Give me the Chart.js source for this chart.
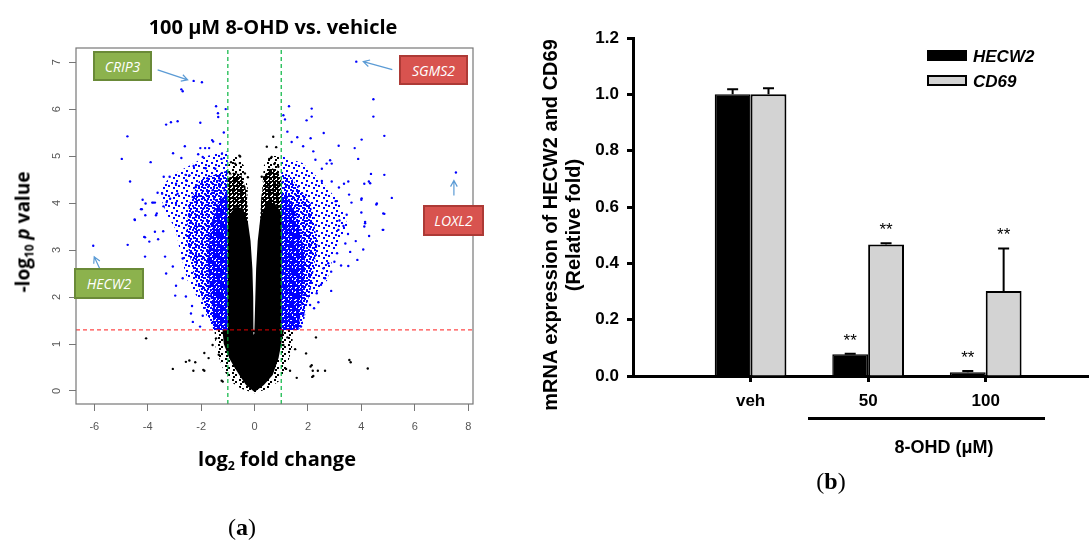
<!DOCTYPE html>
<html>
<head>
<meta charset="utf-8">
<script src="https://cdn.jsdelivr.net/npm/chart.js@4.4.1/dist/chart.umd.min.js"></script>
<style>
  html, body { margin: 0; padding: 0; background: #fff; }
  #page { position: relative; width: 1092px; height: 540px; overflow: hidden; font-family: "Liberation Sans", Arial, sans-serif; }
  canvas { position: absolute; top: 0; }
  .lbl { position: absolute; white-space: nowrap; line-height: 1; transform: translate(-50%, -50%); }
  .rot { transform: translate(-50%, -50%) rotate(-90deg); }
  .volc { font-family: "Open Sans", sans-serif; font-weight: 700; font-size: 19px; color: #000; }
  .sub { font-size: 0.62em; position: relative; top: 0.3em; }
  .panel { font-family: "Liberation Serif", serif; font-size: 24px; }
  .gene { position: absolute; box-sizing: border-box; border: 2px solid; color: #fff; font-family: "Open Sans", sans-serif;
          font-style: italic; font-size: 14px; display: flex; align-items: center; justify-content: center; }
  .green { background: #8cb24d; border-color: #6a8a38; }
  .red { background: #d8534f; border-color: #ad3a36; }
  .bold { font-weight: 700; color: #000; }
  .key { position: absolute; box-sizing: border-box; width: 40px; height: 11px; border: 2px solid #000; }
</style>
</head>
<body>
<div id="page">
  <canvas id="volcano" width="520" height="540" style="left:0"></canvas>
  <canvas id="bars" width="572" height="540" style="left:520px"></canvas>

  <div class="lbl volc" style="left:273px;top:27px;font-size:20px">100 μM 8-OHD vs. vehicle</div>
  <div class="lbl volc rot" style="left:23px;top:232px">-log<span class="sub">10</span> <i>p</i> value</div>
  <div class="lbl volc" style="left:277px;top:459px;font-size:20px">log<span class="sub">2</span> fold change</div>
  <div class="lbl panel" style="left:242px;top:527px">(<b>a</b>)</div>

  <div class="gene green" style="left:93px;top:51px;width:59px;height:30px">CRIP3</div>
  <div class="gene red" style="left:399px;top:55px;width:69px;height:30px">SGMS2</div>
  <div class="gene red" style="left:423px;top:205px;width:61px;height:31px">LOXL2</div>
  <div class="gene green" style="left:74px;top:268px;width:70px;height:31px">HECW2</div>

  <div class="lbl bold rot" style="left:550px;top:225px;font-size:20px">mRNA expression of HECW2 and CD69</div>
  <div class="lbl bold rot" style="left:573px;top:225px;font-size:20px">(Relative fold)</div>
  <div style="position:absolute;left:808px;top:417px;width:237px;height:3px;background:#000"></div>
  <div class="lbl bold" style="left:944px;top:447px;font-size:18px">8-OHD (μM)</div>
  <div class="lbl panel" style="left:831px;top:481px">(<b>b</b>)</div>

  <div class="key" style="left:927px;top:50px;background:#000"></div>
  <div class="lbl bold" style="left:973px;top:56px;transform:translate(0,-50%);font-size:17px;font-style:italic">HECW2</div>
  <div class="key" style="left:927px;top:75px;background:#d3d3d3"></div>
  <div class="lbl bold" style="left:973px;top:81px;transform:translate(0,-50%);font-size:17px;font-style:italic">CD69</div>
</div>

<script>
// ---------- (a) volcano plot ----------
const volcanoXTicks = [-6, -4, -2, 0, 2, 4, 6, 8];
const volcanoYTicks = [0, 1, 2, 3, 4, 5, 6, 7];
const foldCutoffs = [-1, 1];
const pCutoff = 1.3;

const downGenes = [
  [-2.28, 6.60], [-1.97, 6.57], [-2.74, 6.42], [-2.69, 6.38], [-1.44, 6.06], [-1.08, 6.00], [-1.37, 5.91], [-1.36, 5.83],
  [-2.88, 5.74], [-3.13, 5.72], [-3.31, 5.67], [-2.03, 5.71], [-4.76, 5.42], [-1.15, 5.50], [-1.59, 5.34], [-1.55, 5.31],
  [-2.61, 5.21], [-2.03, 5.17], [-1.85, 5.17], [-1.70, 5.17], [-1.29, 5.26], [-4.97, 4.94], [-3.05, 5.06], [-2.74, 4.96],
  [-3.89, 4.87], [-2.11, 5.04], [-1.94, 4.98], [-1.22, 5.05], [-1.24, 4.94], [-2.28, 4.79], [-1.83, 4.74], [-1.47, 4.73],
  [-4.66, 4.46], [-3.40, 4.56], [-3.18, 4.56], [-2.94, 4.41], [-2.58, 4.60], [-3.63, 4.22], [-4.19, 4.07], [-3.83, 4.01],
  [-3.73, 4.01], [-4.25, 3.87], [-4.49, 3.65], [-4.09, 3.74], [-3.69, 3.74], [-3.41, 3.93], [-3.16, 4.09], [-2.88, 4.20],
  [-3.46, 4.20], [-2.56, 4.48], [-2.44, 4.59], [-2.20, 4.34], [-1.75, 4.52], [-1.57, 4.27], [-1.32, 4.48], [-1.13, 4.27],
  [-1.44, 4.06], [-1.94, 4.00], [-2.31, 4.13], [-2.94, 4.00], [-3.29, 4.02],
  [-6.04, 3.09], [-4.75, 3.11], [-4.10, 3.27], [-3.94, 3.18], [-4.10, 2.86], [-3.73, 3.39], [-3.42, 3.40], [-3.61, 3.23],
  [-3.35, 2.86], [-3.31, 2.50], [-3.06, 2.65], [-2.94, 2.24], [-2.97, 2.03], [-2.69, 2.40], [-2.57, 2.01], [-2.34, 1.81],
  [-2.31, 1.47], [-2.38, 1.65], [-1.94, 1.60], [-2.04, 1.37], [-2.69, 2.82],
  [-4.48, 3.64], [-4.22, 3.87], [-4.08, 3.99], [-3.79, 4.01], [-3.66, 3.78], [-4.13, 3.28]
];
const upGenes = [
  [3.81, 7.01], [4.45, 6.21], [4.45, 5.84], [1.29, 6.06], [2.14, 6.01], [2.14, 5.84], [1.95, 5.76], [1.14, 5.78],
  [1.08, 5.87], [2.59, 5.49], [1.60, 5.40], [2.10, 5.38], [4.01, 5.35], [4.86, 5.43], [3.15, 5.22], [3.75, 5.17],
  [3.88, 4.94], [1.23, 5.52], [1.39, 5.30], [1.82, 5.21], [2.20, 5.10], [2.70, 4.84], [2.89, 4.84], [2.52, 4.73],
  [4.36, 4.62], [4.86, 4.60], [7.54, 4.65], [2.89, 4.46], [3.51, 4.46], [3.35, 4.41], [4.11, 4.41], [4.28, 4.46],
  [3.16, 4.33], [3.54, 4.18], [3.04, 4.04], [3.63, 4.01], [4.00, 4.07], [4.56, 3.97], [5.14, 4.11], [4.00, 3.80],
  [3.45, 3.75], [4.86, 3.77], [3.18, 3.63], [4.14, 3.60], [2.83, 4.91], [2.28, 4.92], [2.52, 4.47],
  [4.80, 3.43], [4.11, 3.50], [4.29, 3.30], [4.07, 3.01], [3.85, 2.79], [3.79, 3.19], [3.58, 2.96], [3.51, 2.66],
  [3.24, 2.67], [3.40, 3.14], [3.50, 3.34], [3.33, 3.51], [3.14, 3.43], [3.09, 2.93], [2.99, 2.75], [2.87, 2.13],
  [2.87, 2.54], [2.64, 2.40], [2.39, 1.89], [2.33, 2.08], [2.23, 1.76], [2.08, 1.83], [1.74, 1.37], [1.64, 1.51],
  [1.55, 1.37], [1.83, 1.62], [2.49, 2.26], [2.76, 2.72], [2.58, 2.61],
  [4.82, 3.78], [4.82, 3.43], [4.58, 3.99], [4.33, 4.42], [4.01, 4.10], [4.14, 3.57]
];
const flatGenes = [
  [-0.57, 5.01], [-0.88, 4.87], [-0.55, 4.85], [-0.25, 4.55], [-0.69, 4.48], [-0.38, 4.34], [-0.80, 4.27], [0.55, 4.94],
  [0.36, 4.55], [0.74, 4.83], [0.49, 4.34], [0.70, 5.41], [0.81, 5.19], [0.64, 4.98], [0.89, 4.77], [0.73, 4.55],
  [0.93, 4.41], [0.68, 4.27], [0.83, 4.09], [0.96, 3.92], [-0.54, 4.99], [-0.73, 4.84], [-0.36, 4.63], [-0.92, 4.63],
  [0.27, 4.56], [0.46, 4.56], [0.46, 5.20],
  [-4.06, 1.12], [-3.06, 0.47], [-2.57, 0.62], [-2.44, 0.65], [-2.29, 0.43], [-2.22, 0.61], [-1.88, 0.81], [-1.88, 0.43],
  [-1.72, 0.70], [-1.44, 1.12], [-1.19, 0.20], [-1.57, 0.98], [-1.34, 0.77], [-1.92, 0.45], [-1.23, 0.22],
  [2.30, 1.14], [1.52, 0.89], [1.93, 0.80], [3.55, 0.66], [3.60, 0.61], [4.24, 0.48], [2.10, 0.52], [2.18, 0.43],
  [2.37, 0.43], [2.64, 0.43], [2.16, 0.30], [1.58, 0.28], [1.33, 0.43], [1.18, 0.47], [1.23, 1.14], [1.08, 0.98],
  [2.14, 0.55], [2.20, 0.32]
];

// outlines of the crowded regions (too dense to read point by point)
const downOuter = [[-1.0, 1.3], [-1.55, 1.3], [-2.02, 1.87], [-2.52, 2.36], [-2.78, 2.93], [-2.95, 3.43], [-3.3, 3.78],
  [-3.6, 4.25], [-3.1, 4.6], [-2.5, 4.78], [-1.8, 5.0], [-1.0, 5.1]];
const downCore = [[-1.0, 1.3], [-1.52, 1.3], [-1.82, 1.72], [-2.32, 2.57], [-2.56, 3.28], [-2.45, 3.99], [-2.06, 4.49], [-1.0, 4.7]];
const downBand = [[-1.0, 1.3], [-1.5, 1.3], [-1.65, 2.0], [-1.75, 2.8], [-1.65, 3.5], [-1.35, 4.05], [-1.0, 4.2]];
const upOuter = [[1.0, 1.3], [1.79, 1.3], [1.98, 1.87], [2.73, 2.36], [2.97, 2.93], [3.5, 3.5], [3.22, 3.99],
  [2.47, 4.49], [1.8, 4.85], [1.0, 5.0]];
const upCore = [[1.0, 1.3], [1.72, 1.33], [2.1, 2.15], [2.36, 3.14], [2.1, 3.99], [1.35, 4.56], [1.0, 4.63]];
const upBand = [[1.0, 1.3], [1.65, 1.3], [1.8, 2.0], [1.88, 2.8], [1.7, 3.5], [1.35, 4.05], [1.0, 4.2]];
const flatCore = [[-1.0, 1.3], [-1.0, 3.7], [-0.75, 3.9], [-0.45, 3.9], [-0.25, 3.6], [-0.15, 3.2], [-0.08, 2.6], [-0.05, 2.0],
  [-0.04, 1.2], [-0.01, 1.2], [0.03, 2.0], [0.06, 2.6], [0.12, 3.2], [0.22, 3.7], [0.45, 4.0], [0.75, 4.0], [1.0, 3.8],
  [1.0, 1.3], [1.1, 1.3], [1.0, 1.0], [0.9, 0.7], [0.68, 0.34], [0.35, 0.13], [0.0, -0.02], [-0.32, 0.13], [-0.57, 0.34],
  [-0.75, 0.5], [-0.95, 0.7], [-1.15, 1.0], [-1.2, 1.3]];
const flatDenseLeft = [[-1.0, 3.5], [-1.0, 4.5], [-0.8, 4.65], [-0.5, 4.6], [-0.33, 4.3], [-0.25, 3.9], [-0.25, 3.5]];
const flatDenseRight = [[0.2, 3.5], [0.25, 4.1], [0.38, 4.6], [0.6, 4.75], [0.85, 4.7], [1.0, 4.5], [1.0, 3.5]];
const flatFringeLeft = [[-1.0, 3.9], [-1.0, 4.8], [-0.7, 5.0], [-0.4, 4.8], [-0.25, 4.3], [-0.3, 3.9]];
const flatFringeRight = [[0.25, 4.0], [0.35, 4.8], [0.6, 5.0], [1.0, 5.0], [1.0, 4.0]];
const flatFringeBase = [[-1.0, 1.3], [-1.5, 1.3], [-1.45, 0.9], [-1.2, 0.5], [-0.9, 0.2], [-0.5, 0.05], [0.0, -0.05],
  [0.5, 0.05], [0.9, 0.2], [1.2, 0.5], [1.4, 0.9], [1.45, 1.3]];

const calloutNames = ['CRIP3', 'SGMS2', 'LOXL2', 'HECW2'];
const calloutX = [-2.28, 3.81, 7.54, -6.04];
const calloutY = [6.60, 7.01, 4.65, 3.09];

// ---------- (b) qPCR bars ----------
const doseLabels = ['veh', '50', '100'];
const hecw2Mean = [1.00, 0.077, 0.013];
const hecw2Sem = [0.018, 0.002, 0.005];
const cd69Mean = [1.00, 0.467, 0.302];
const cd69Sem = [0.022, 0.004, 0.151];
const hecw2Stars = ['', '**', '**'];
const cd69Stars = ['', '**', '**'];
const barYTicks = [0, 0.2, 0.4, 0.6, 0.8, 1.0, 1.2];

// arrow offsets (px) from each callout gene: tail, tip
const calloutArrows = [
  { tail: [-36, -11], tip: [-6, -1] },
  { tail: [36, 8], tip: [7, 0] },
  { tail: [-2, 23], tip: [-2, 8] },
  { tail: [7, 24], tip: [1, 11] }
];

const toPts = arr => arr.map(([x, y]) => ({ x, y }));

function dotPattern(color, size, dots) {
  const c = document.createElement('canvas');
  c.width = c.height = size;
  const g = c.getContext('2d');
  g.fillStyle = color;
  dots.forEach(([x, y]) => g.fillRect(x, y, 2, 2));
  return g.createPattern(c, 'repeat');
}

function region(points, fillStyle, order) {
  return {
    type: 'line', data: toPts(points), showLine: true, fill: 'shape', backgroundColor: fillStyle,
    borderColor: 'transparent', borderWidth: 0, pointRadius: 0, tension: 0, order
  };
}

const blueSparse = dotPattern('#0000ff', 10, [[1, 2], [6, 0], [8, 5], [3, 7], [5, 4]]);
const blueMid = dotPattern('#0000ff', 6, [[0, 1], [3, 0], [2, 3], [4, 4]]);
const blueDense = dotPattern('#0000ff', 4, [[0, 0], [2, 1], [1, 2]]);
const blackDense = dotPattern('#000000', 4, [[0, 0], [2, 1], [1, 2]]);
const blackSparse = dotPattern('#000000', 7, [[1, 1], [4, 3], [2, 5]]);

const xMin = -6.685, xMax = 8.18, yMin = -0.277, yMax = 7.30;

const volcanoDecor = {
  id: 'volcanoDecor',
  afterDraw(chart) {
    const { ctx, chartArea: a, scales: { x, y } } = chart;
    ctx.save();
    ctx.strokeStyle = '#777';
    ctx.lineWidth = 1.2;
    ctx.strokeRect(a.left, a.top, a.right - a.left, a.bottom - a.top);

    // R draws the y labels parallel to the axis
    ctx.fillStyle = '#555';
    ctx.font = '11px "Liberation Sans", Arial, sans-serif';
    ctx.textAlign = 'center';
    ctx.textBaseline = 'middle';
    volcanoYTicks.forEach(v => {
      ctx.save();
      ctx.translate(a.left - 19, y.getPixelForValue(v));
      ctx.rotate(-Math.PI / 2);
      ctx.fillText(String(v), 0, 0);
      ctx.restore();
    });

    // callout arrows
    ctx.strokeStyle = '#5b9bd5';
    ctx.lineWidth = 1.2;
    calloutNames.forEach((name, i) => {
      const px = x.getPixelForValue(calloutX[i]);
      const py = y.getPixelForValue(calloutY[i]);
      const t0 = [px + calloutArrows[i].tail[0], py + calloutArrows[i].tail[1]];
      const t1 = [px + calloutArrows[i].tip[0], py + calloutArrows[i].tip[1]];
      const ang = Math.atan2(t1[1] - t0[1], t1[0] - t0[0]);
      ctx.beginPath();
      ctx.moveTo(t0[0], t0[1]);
      ctx.lineTo(t1[0], t1[1]);
      ctx.moveTo(t1[0] - 7 * Math.cos(ang - 0.5), t1[1] - 7 * Math.sin(ang - 0.5));
      ctx.lineTo(t1[0], t1[1]);
      ctx.lineTo(t1[0] - 7 * Math.cos(ang + 0.5), t1[1] - 7 * Math.sin(ang + 0.5));
      ctx.stroke();
    });
    ctx.restore();
  }
};

const cutLine = (pts, color) => ({
  type: 'line', data: pts, showLine: true, fill: false, borderColor: color, borderWidth: 1.3,
  borderDash: [4, 3], pointRadius: 0, order: 0
});

new Chart(document.getElementById('volcano'), {
  type: 'scatter',
  data: {
    datasets: [
      ...foldCutoffs.map(fc => cutLine([{ x: fc, y: yMin }, { x: fc, y: yMax }], 'rgba(0,180,60,0.9)')),
      cutLine([{ x: xMin, y: pCutoff }, { x: xMax, y: pCutoff }], 'rgba(255,0,0,0.72)'),
      { data: toPts(downGenes), backgroundColor: '#0000ff', pointRadius: 1.2, pointBorderWidth: 0, order: 1 },
      { data: toPts(upGenes), backgroundColor: '#0000ff', pointRadius: 1.2, pointBorderWidth: 0, order: 1 },
      { data: toPts(flatGenes), backgroundColor: '#000000', pointRadius: 1.2, pointBorderWidth: 0, order: 2 },
      region(flatCore, '#000000', 3),
      region(flatDenseLeft, blackDense, 4),
      region(flatDenseRight, blackDense, 4),
      region(flatFringeLeft, blackSparse, 4),
      region(flatFringeRight, blackSparse, 4),
      region(flatFringeBase, blackSparse, 4),
      region(downBand, blueDense, 5),
      region(upBand, blueDense, 5),
      region(downCore, blueMid, 6),
      region(upCore, blueMid, 6),
      region(downOuter, blueSparse, 7),
      region(upOuter, blueSparse, 7)
    ]
  },
  options: {
    responsive: false,
    animation: false,
    events: [],
    layout: { padding: { top: 48, right: 47, left: 0, bottom: 0 } },
    plugins: { legend: { display: false }, tooltip: { enabled: false } },
    scales: {
      x: {
        type: 'linear', min: xMin, max: xMax,
        afterBuildTicks: s => { s.ticks = volcanoXTicks.map(v => ({ value: v })); },
        afterFit: s => { s.height = 136; },
        grid: { drawOnChartArea: false, tickLength: 7, color: '#777' },
        border: { display: false },
        ticks: { color: '#555', font: { family: '"Liberation Sans", Arial, sans-serif', size: 11 }, padding: 9, maxRotation: 0, autoSkip: false }
      },
      y: {
        type: 'linear', min: yMin, max: yMax,
        afterBuildTicks: s => { s.ticks = volcanoYTicks.map(v => ({ value: v })); },
        afterFit: s => { s.width = 76; },
        grid: { drawOnChartArea: false, tickLength: 7, color: '#777' },
        border: { display: false },
        ticks: { display: false }
      }
    }
  },
  plugins: [volcanoDecor]
});

// error bars (upper only) and significance marks
const errorBars = {
  id: 'errorBars',
  afterDatasetsDraw(chart) {
    const { ctx, scales: { y } } = chart;
    const means = [hecw2Mean, cd69Mean];
    const sems = [hecw2Sem, cd69Sem];
    const stars = [hecw2Stars, cd69Stars];
    ctx.save();
    ctx.strokeStyle = '#000';
    ctx.fillStyle = '#000';
    ctx.lineWidth = 2;
    ctx.font = '17px "Liberation Sans", Arial, sans-serif';
    ctx.textAlign = 'center';
    ctx.textBaseline = 'alphabetic';
    chart.data.datasets.forEach((ds, d) => {
      chart.getDatasetMeta(d).data.forEach((bar, i) => {
        const top = y.getPixelForValue(means[d][i] + sems[d][i]);
        ctx.beginPath();
        ctx.moveTo(bar.x, bar.y);
        ctx.lineTo(bar.x, top);
        ctx.moveTo(bar.x - 5.5, top);
        ctx.lineTo(bar.x + 5.5, top);
        ctx.stroke();
        if (stars[d][i]) ctx.fillText(stars[d][i], bar.x, top - 8);
      });
    });
    ctx.restore();
  }
};

const axisFont = { family: '"Liberation Sans", Arial, sans-serif', size: 17, weight: 'bold' };

new Chart(document.getElementById('bars'), {
  type: 'bar',
  data: {
    datasets: [
      {
        label: 'HECW2', data: doseLabels.map((l, i) => ({ x: i + 1, y: hecw2Mean[i] })),
        backgroundColor: '#000', borderColor: '#000', borderWidth: 1.5, categoryPercentage: 0.61, barPercentage: 1.0
      },
      {
        label: 'CD69', data: doseLabels.map((l, i) => ({ x: i + 1, y: cd69Mean[i] })),
        backgroundColor: '#d3d3d3', borderColor: '#000', borderWidth: 2, categoryPercentage: 0.61, barPercentage: 1.0
      }
    ]
  },
  options: {
    responsive: false,
    animation: false,
    events: [],
    layout: { padding: { top: 38, right: 4, left: 0, bottom: 0 } },
    plugins: { legend: { display: false }, tooltip: { enabled: false } },
    scales: {
      x: {
        type: 'linear', min: 0, max: 3.87, offset: false,
        afterBuildTicks: s => { s.ticks = doseLabels.map((l, i) => ({ value: i + 1 })); },
        afterFit: s => { s.height = 164; },
        grid: { drawOnChartArea: false, offset: false, tickLength: 6, tickWidth: 3, tickColor: '#000' },
        border: { color: '#000', width: 3 },
        ticks: { callback: v => doseLabels[v - 1], color: '#000', font: axisFont, padding: 9, maxRotation: 0, autoSkip: false }
      },
      y: {
        min: 0, max: 1.2,
        afterBuildTicks: s => { s.ticks = barYTicks.map(v => ({ value: v })); },
        afterFit: s => { s.width = 113; },
        grid: { drawOnChartArea: false, tickLength: 6, tickWidth: 3, tickColor: '#000' },
        border: { color: '#000', width: 3 },
        ticks: { callback: v => v.toFixed(1), color: '#000', font: axisFont, padding: 8 }
      }
    }
  },
  plugins: [errorBars]
});
</script>
</body>
</html>
